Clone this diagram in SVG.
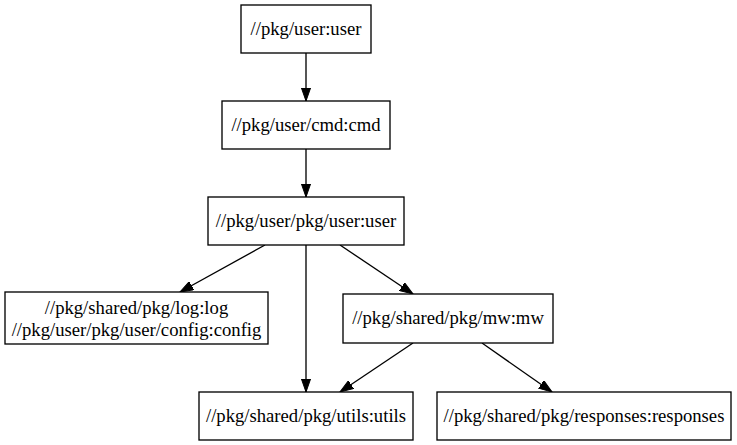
<svg xmlns="http://www.w3.org/2000/svg" width="737" height="445" viewBox="0 0 737 445">
<style>
.n rect{fill:#fff;stroke:#000;stroke-width:1.33}
.n text{font-size:18.67px;fill:#000;text-anchor:middle}
.e line{stroke:#000;stroke-width:1.33;fill:none}
</style>
<defs>
<marker id="ah" markerUnits="userSpaceOnUse" markerWidth="14" markerHeight="10" refX="13.3" refY="4.67" orient="auto" viewBox="0 0 14 9.34">
<path d="M0,0 L13.3,4.67 L0,9.34 z" fill="#000" stroke="#000" stroke-width="1"/>
</marker>
</defs>
<rect width="737" height="445" fill="#fff"/>
<g id="edges" class="e">
<line x1="306" y1="53" x2="306" y2="101" marker-end="url(#ah)"/>
<line x1="306" y1="149" x2="306" y2="197" marker-end="url(#ah)"/>
<line x1="265" y1="245" x2="180" y2="292" marker-end="url(#ah)"/>
<line x1="306" y1="245" x2="306" y2="392" marker-end="url(#ah)"/>
<line x1="340" y1="245" x2="413" y2="294" marker-end="url(#ah)"/>
<line x1="413" y1="343" x2="340" y2="392" marker-end="url(#ah)"/>
<line x1="482" y1="343" x2="552" y2="392" marker-end="url(#ah)"/>
</g>
<g font-family="'Liberation Serif', 'Times New Roman', 'DejaVu Serif', serif">
<g id="user" class="n"><rect x="241" y="5" width="130" height="48"/><text x="306" y="35">//pkg/user:user</text></g>
<g id="cmd" class="n"><rect x="222" y="101" width="168" height="48"/><text x="306" y="131">//pkg/user/cmd:cmd</text></g>
<g id="pkguser" class="n"><rect x="208" y="197" width="196" height="48"/><text x="306" y="227">//pkg/user/pkg/user:user</text></g>
<g id="logconfig" class="n"><rect x="5" y="292" width="263" height="52"/><text x="136.5" y="314">//pkg/shared/pkg/log:log</text><text x="136.5" y="336">//pkg/user/pkg/user/config:config</text></g>
<g id="mw" class="n"><rect x="343" y="294" width="210" height="49"/><text x="448" y="324">//pkg/shared/pkg/mw:mw</text></g>
<g id="utils" class="n"><rect x="199" y="392" width="214" height="48"/><text x="306" y="422">//pkg/shared/pkg/utils:utils</text></g>
<g id="responses" class="n"><rect x="437" y="392" width="294" height="48"/><text x="584" y="422">//pkg/shared/pkg/responses:responses</text></g>
</g>
</svg>
